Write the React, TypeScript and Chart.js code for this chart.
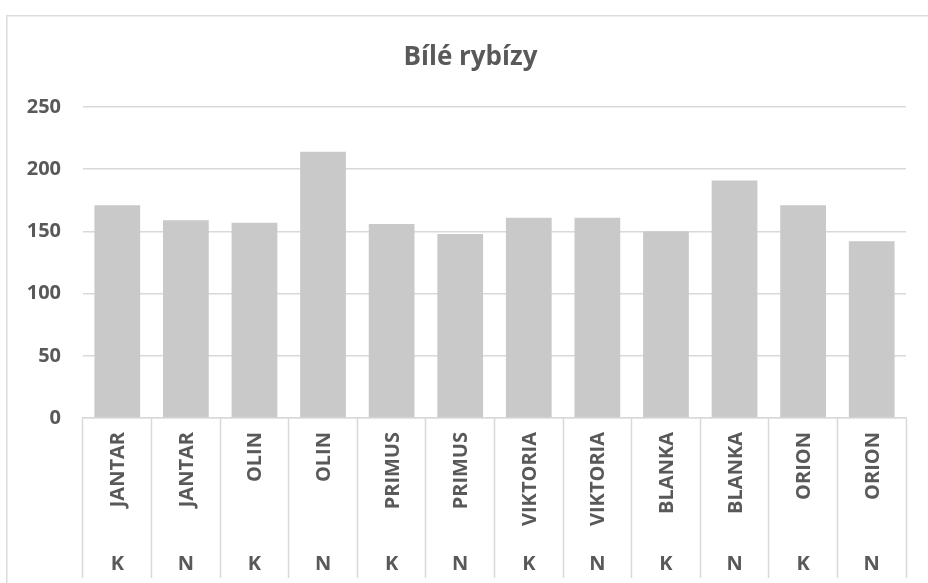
import React, { useEffect, useRef } from "react";
import { Chart, registerables } from "chart.js";

Chart.register(...registerables);

// Bílé rybízy – yield per variety (K / N treatment)
const title = "Bílé rybízy";
const varieties = [
  "JANTAR", "JANTAR", "OLIN", "OLIN", "PRIMUS", "PRIMUS",
  "VIKTORIA", "VIKTORIA", "BLANKA", "BLANKA", "ORION", "ORION",
];
const treatments = ["K", "N", "K", "N", "K", "N", "K", "N", "K", "N", "K", "N"];
const values = [171, 159, 157, 214, 156, 148, 161, 161, 150, 191, 171, 142];
const yMin = 0;
const yMax = 250;
const yStep = 50;

const TEXT = "#595959";
const LINE = "#d9d9d9";
const FONT = "'Open Sans', 'Liberation Sans', sans-serif";

const W = 928;
const H = 583;

// Outer frame, title and the two-level category labels under the x axis
const decorPlugin = {
  id: "decor",
  beforeDraw(chart: any) {
    const { ctx } = chart;
    ctx.save();
    ctx.fillStyle = "#ffffff";
    ctx.fillRect(0, 0, W, H);
    ctx.strokeStyle = "#dcdcdc";
    ctx.lineWidth = 1.5;
    ctx.strokeRect(6.75, 15.75, W + 100, H + 100);
    ctx.restore();
  },
  afterDraw(chart: any) {
    const { ctx } = chart;
    const x = chart.scales.x;
    const labels = chart.data.labels as string[][];
    ctx.save();
    ctx.fillStyle = TEXT;

    // title
    ctx.font = `bold 26px ${FONT}`;
    ctx.textAlign = "center";
    ctx.textBaseline = "alphabetic";
    ctx.fillText(title, 470.5, 65);

    const top = x.top;
    labels.forEach((lab, i) => {
      const cx = x.getPixelForValue(i);
      // rotated variety name, its end aligned just under the axis
      ctx.font = `bold 20px ${FONT}`;
      const m = ctx.measureText(lab[0]);
      const asc = m.actualBoundingBoxAscent;
      ctx.save();
      ctx.translate(cx + asc / 2, top + 14);
      ctx.rotate(-Math.PI / 2);
      ctx.textAlign = "right";
      ctx.textBaseline = "alphabetic";
      ctx.fillText(lab[0], 0, 0);
      ctx.restore();

      // treatment letter in the lower row
      const m2 = ctx.measureText(lab[1]);
      ctx.textAlign = "center";
      ctx.textBaseline = "alphabetic";
      ctx.fillText(lab[1], cx, top + 145 + m2.actualBoundingBoxAscent / 2);
    });
    ctx.restore();
  },
};

export default function App() {
  const ref = useRef<HTMLCanvasElement | null>(null);

  useEffect(() => {
    if (!ref.current) return;
    const labels = varieties.map((v, i) => [v, treatments[i]]);
    const chart = new Chart(ref.current, {
      type: "bar",
      data: {
        labels,
        datasets: [
          {
            label: title,
            data: values,
            backgroundColor: "#c9c9c9",
            borderWidth: 0,
            barPercentage: 0.667,
            categoryPercentage: 1,
          },
        ],
      },
      options: {
        animation: false,
        responsive: false,
        devicePixelRatio: 1,
        layout: { padding: { top: 107, right: 22, left: 0, bottom: 0 } },
        plugins: {
          legend: { display: false },
          title: { display: false },
          tooltip: { enabled: false },
        },
        scales: {
          x: {
            type: "category",
            offset: true,
            border: { display: true, color: LINE, width: 1.5 },
            grid: {
              display: true,
              offset: true,
              drawOnChartArea: false,
              drawTicks: true,
              tickLength: 160,
              tickColor: LINE,
              tickWidth: 1.5,
              color: LINE,
            },
            ticks: { display: false },
            afterFit(scale: any) {
              scale.height = 165;
            },
          },
          y: {
            min: yMin,
            max: yMax,
            border: { display: false },
            grid: { color: LINE, lineWidth: 1.5, drawTicks: false },
            ticks: {
              stepSize: yStep,
              padding: 22,
              color: TEXT,
              font: { family: FONT, size: 20, weight: "bold" },
            },
            afterFit(scale: any) {
              scale.width = 83;
            },
          },
        },
      },
      plugins: [decorPlugin],
    });
    return () => chart.destroy();
  }, []);

  return (
    <div style={{ position: "fixed", left: 0, top: 0, width: W, height: H, background: "#fff" }}>
      <canvas ref={ref} width={W} height={H} style={{ display: "block" }} />
    </div>
  );
}
